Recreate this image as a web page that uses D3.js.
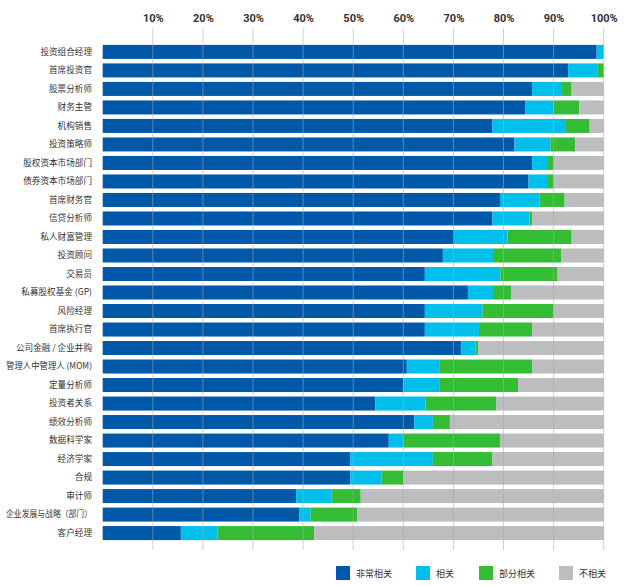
<!DOCTYPE html>
<html><head><meta charset="utf-8">
<script src="https://cdn.jsdelivr.net/npm/d3@7"></script>
<style>
html,body{margin:0;padding:0;background:#fff;}
svg{display:block;}
</style></head>
<body>
<svg id="chart" width="633" height="586"></svg>
<script>
const categories = ["投资组合经理","首席投资官","股票分析师","财务主管","机构销售","投资策略师","股权资本市场部门","债券资本市场部门","首席财务官","信贷分析师","私人财富管理","投资顾问","交易员","私募股权基金 (GP)","风险经理","首席执行官","公司金融 / 企业并购","管理人中管理人 (MOM)","定量分析师","投资者关系","绩效分析师","数据科学家","经济学家","合规","审计师","企业发展与战略（部门）","客户经理"];
const seriesNames = ["非常相关","相关","部分相关","不相关"];
const veryRelevant = [98.6,92.9,85.7,84.3,77.8,82.2,85.7,85.0,79.3,77.8,70.1,67.9,64.3,72.9,64.3,64.3,71.5,60.7,60.0,54.4,62.2,57.1,49.4,49.4,38.6,39.2,15.6];
const relevant     = [1.4,5.8,5.8,5.7,14.5,7.2,3.0,3.7,7.9,7.4,10.7,10.0,15.1,5.0,11.5,10.8,2.9,6.6,7.3,10.0,3.7,2.9,16.5,6.3,7.1,2.3,7.3];
const partly       = [0,1.3,2.1,5.1,4.9,4.9,1.3,1.3,5.0,0.5,12.8,13.6,11.4,3.6,14.1,10.6,0.6,18.4,15.6,14.2,3.4,19.3,11.9,4.3,5.8,9.3,19.3];
const notRelevant  = [0,0,6.4,4.9,2.8,5.7,10.0,10.0,7.8,14.3,6.4,8.5,9.2,18.5,10.1,14.3,25.0,14.3,17.1,21.4,30.7,20.7,22.2,40.0,48.5,49.2,57.8];
const tickValues = [10,20,30,40,50,60,70,80,90,100];
const colors = ["#0058A9","#00BFEB","#34BD34","#BCBDBF"];

const svg = d3.select("#chart");
const rows = categories.map((c,i)=>({cat:c, [seriesNames[0]]:veryRelevant[i], [seriesNames[1]]:relevant[i], [seriesNames[2]]:partly[i], [seriesNames[3]]:notRelevant[i]}));
const stack = d3.stack().keys(seriesNames)(rows);

const x = d3.scaleLinear().domain([0,100]).range([102.7,603.7]);
const y = d3.scaleBand().domain(categories).range([42.5,542.5]).paddingInner(0.243).paddingOuter(0.13);

const layers = svg.append("g").selectAll("g").data(stack).join("g").attr("fill",(d,i)=>colors[i]);
layers.selectAll("rect").data(d=>d).join("rect")
  .attr("x",d=>x(d[0])).attr("y",d=>y(d.data.cat))
  .attr("width",d=>Math.max(0,x(Math.min(100,d[1]))-x(d[0]))).attr("height",y.bandwidth());

// gridlines over bars
const grid = svg.append("g");
grid.selectAll("line").data(tickValues).join("line")
  .attr("x1",d=>x(d)).attr("x2",d=>x(d)).attr("y1",28).attr("y2",550)
  .attr("stroke","#a9acb0").attr("stroke-opacity",0.55).attr("stroke-width",1);

// top axis labels
const xAxis = d3.axisTop(x).tickValues(tickValues).tickFormat(d=>d+"%").tickSize(0).tickPadding(0);
const ax = svg.append("g").attr("transform","translate(0,22)").call(xAxis);
ax.select(".domain").remove();
ax.selectAll("text").attr("font-family","Roboto, sans-serif").attr("font-weight","700")
  .attr("font-size","11px").attr("fill","#333").attr("dy","0");

// category labels
const yAxis = d3.axisLeft(y).tickSize(0).tickPadding(0);
const ay = svg.append("g").attr("transform","translate(92,0)").call(yAxis);
ay.select(".domain").remove();
ay.selectAll("text").attr("font-family","'Noto Sans CJK SC', sans-serif")
  .attr("font-size","8.6px").attr("fill","#333")
  .each(function(){
    const w = this.getComputedTextLength();
    if (w > 86) { d3.select(this).attr("textLength",86).attr("lengthAdjust","spacingAndGlyphs"); }
  });

// legend
const legendX = [336,416,479,559];
const lg = svg.append("g").selectAll("g").data(seriesNames).join("g")
  .attr("transform",(d,i)=>`translate(${legendX[i]},566)`);
lg.append("rect").attr("width",14).attr("height",14).attr("fill",(d,i)=>colors[i]);
lg.append("text").attr("x",20).attr("y",11).text(d=>d)
  .attr("font-family","'Noto Sans CJK SC', sans-serif").attr("font-size","9px").attr("fill","#333");
</script>
</body></html>
